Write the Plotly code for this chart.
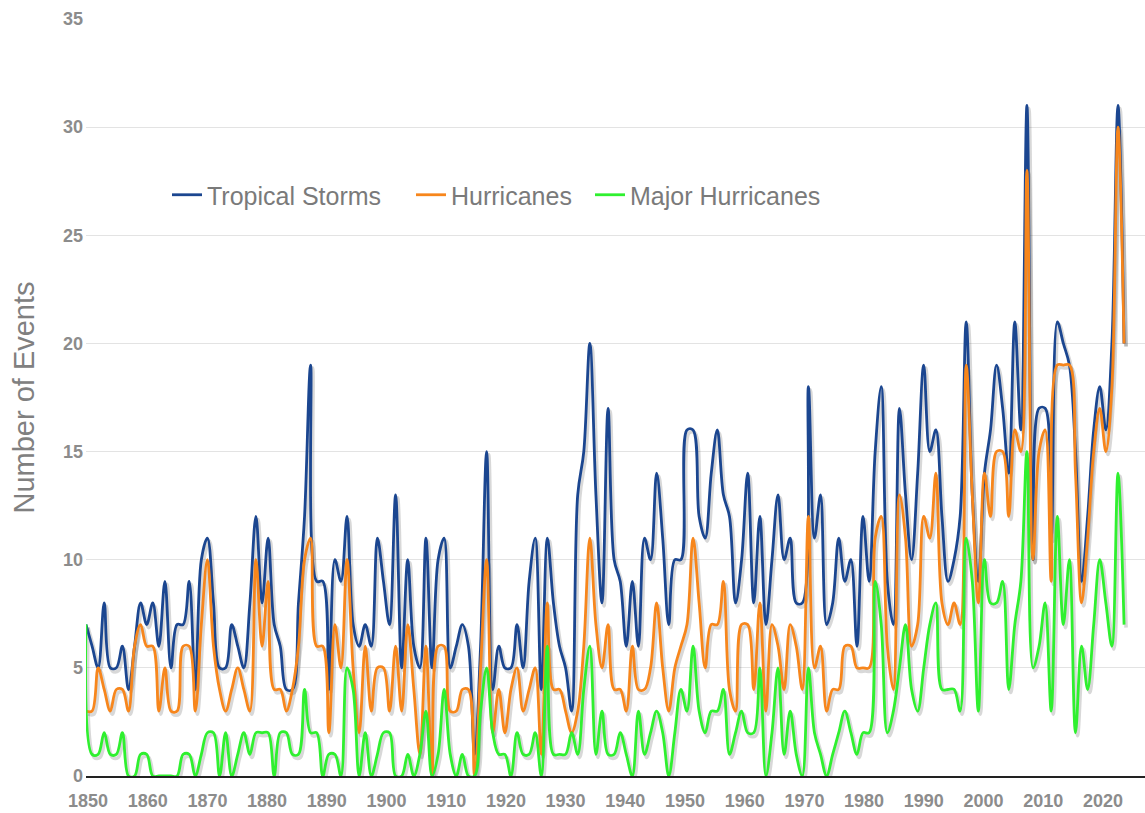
import plotly.graph_objects as go

# Atlantic seasons, one value per year
years = list(range(1850, 2022))

tropical_storms = [
    7, 6, 5, 8, 5, 5, 6, 4, 6, 8,
    7, 8, 6, 9, 5, 7, 7, 9, 4, 10,
    11, 8, 5, 5, 7, 6, 5, 8, 12, 8,
    11, 7, 6, 4, 4, 8, 12, 19, 9, 9,
    4, 10, 9, 12, 7, 6, 7, 6, 11, 9,
    7, 13, 5, 10, 6, 5, 11, 5, 10, 11,
    5, 6, 7, 6, 1, 6, 15, 4, 6, 5,
    5, 7, 5, 9, 11, 4, 11, 8, 6, 5,
    3, 13, 15, 20, 13, 8, 17, 10, 9, 6,
    9, 6, 11, 10, 14, 11, 7, 10, 10, 16,
    16, 12, 11, 14, 16, 13, 12, 8, 10, 14,
    8, 12, 7, 10, 13, 10, 11, 8, 8, 18,
    11, 13, 7, 8, 11, 9, 10, 6, 12, 9,
    15, 18, 9, 7, 17, 13, 10, 14, 19, 15,
    16, 12, 9, 10, 12, 21, 13, 9, 14, 16,
    19, 17, 14, 21, 16, 31, 10, 17, 17, 11,
    21, 20, 19, 15, 9, 12, 16, 18, 16, 20,
    31, 20,
]

hurricanes = [
    3, 3, 5, 4, 3, 4, 4, 3, 6, 7,
    6, 6, 3, 5, 3, 3, 6, 6, 3, 7,
    10, 6, 4, 3, 4, 5, 4, 3, 10, 6,
    9, 4, 4, 3, 4, 6, 10, 11, 6, 6,
    2, 7, 5, 10, 5, 2, 6, 3, 5, 5,
    3, 6, 3, 7, 4, 1, 6, 0, 6, 6,
    3, 3, 4, 4, 0, 5, 10, 2, 4, 2,
    4, 5, 3, 4, 5, 1, 8, 4, 4, 3,
    2, 3, 6, 11, 7, 5, 7, 4, 4, 3,
    6, 4, 4, 5, 8, 5, 3, 5, 6, 7,
    11, 8, 5, 7, 7, 9, 4, 3, 7, 7,
    4, 8, 3, 7, 6, 4, 7, 6, 4, 12,
    5, 6, 3, 4, 4, 6, 6, 5, 5, 5,
    11, 12, 6, 4, 13, 11, 6, 7, 12, 11,
    14, 8, 7, 8, 7, 19, 13, 8, 14, 12,
    15, 15, 12, 16, 15, 28, 10, 15, 16, 9,
    19, 19, 19, 14, 8, 11, 15, 17, 15, 18,
    30, 20,
]

major_hurricanes = [
    7, 1, 1, 2, 1, 1, 2, 0, 0, 1,
    1, 0, 0, 0, 0, 0, 1, 1, 0, 1,
    2, 2, 0, 2, 0, 1, 2, 1, 2, 2,
    2, 0, 2, 2, 1, 1, 4, 2, 2, 0,
    1, 1, 0, 5, 4, 0, 2, 0, 1, 2,
    2, 0, 0, 1, 0, 1, 3, 0, 1, 4,
    1, 0, 1, 0, 0, 3, 5, 2, 1, 1,
    0, 2, 1, 1, 2, 0, 6, 1, 1, 1,
    2, 1, 4, 6, 1, 3, 1, 1, 2, 1,
    0, 3, 1, 2, 3, 2, 0, 2, 4, 3,
    6, 3, 2, 3, 3, 4, 1, 2, 3, 2,
    2, 5, 0, 2, 5, 1, 3, 1, 0, 5,
    2, 1, 0, 1, 2, 3, 2, 1, 2, 2,
    9, 7, 2, 3, 5, 7, 4, 3, 5, 7,
    8, 4, 4, 4, 3, 11, 9, 3, 10, 8,
    8, 9, 4, 7, 9, 15, 5, 6, 8, 3,
    12, 7, 10, 2, 6, 4, 7, 10, 8, 6,
    14, 7,
]

x_ticks = list(range(1850, 2021, 10))
y_ticks = list(range(0, 36, 5))

series = [
    ("Tropical Storms", tropical_storms, "#1b4690", "legend"),
    ("Hurricanes", hurricanes, "#f7861c", "legend2"),
    ("Major Hurricanes", major_hurricanes, "#2ff02f", "legend3"),
]

x_range = [1850, 2024.45]
y_range = [0, 35]
px_per_year = 1059 / (x_range[1] - x_range[0])
px_per_unit = 757 / (y_range[1] - y_range[0])
# soft drop shadow like the original: same data on hidden base axes nudged ~2px right, ~3px down
dx = 2 / px_per_year
dy = 3 / px_per_unit
# the original's year labels sit on a slightly tighter pitch than the data points
label_pitch = 5.97
tick_pos = [x_range[0] + (2 + (t - 1850) * label_pitch) / px_per_year for t in x_ticks]

fig = go.Figure()
for name, vals, color, leg in series:
    fig.add_trace(go.Scatter(
        x=years, y=vals, mode="lines", showlegend=False, hoverinfo="skip",
        line=dict(color="rgba(60,60,60,0.2)", width=3.6, shape="spline", smoothing=1),
        xaxis="x", yaxis="y",
    ))
for name, vals, color, leg in series:
    fig.add_trace(go.Scatter(
        x=years, y=vals, name=name, mode="lines", legend=leg,
        line=dict(color=color, width=2.8, shape="spline", smoothing=1),
        xaxis="x2", yaxis="y2",
    ))

tick_font = dict(family="Liberation Sans, Arial", size=18, color="#8c8c8c", weight="bold")
leg_font = dict(family="Liberation Sans, Arial", size=25, color="#7a7a7a")


def legend_at(x):
    return dict(orientation="h", x=x, y=0.7675, xanchor="left", yanchor="middle",
                font=leg_font, bgcolor="rgba(0,0,0,0)")


fig.update_layout(
    width=1145, height=813,
    margin=dict(l=86, r=0, t=19, b=37),
    plot_bgcolor="white", paper_bgcolor="white",
    showlegend=True,
    legend=legend_at(0.0765),
    legend2=legend_at(0.3069),
    legend3=legend_at(0.4759),
    xaxis=dict(range=[x_range[0] - dx, x_range[1] - dx], visible=False),
    yaxis=dict(range=[y_range[0] + dy, y_range[1] + dy], visible=False),
    xaxis2=dict(
        overlaying="x", anchor="y2", range=x_range, tickvals=tick_pos, ticktext=[str(t) for t in x_ticks],
        showgrid=False, zeroline=False, showline=True, linecolor="#222222", linewidth=2,
        tickfont=tick_font, ticks="", ticklabelstandoff=7, side="bottom",
    ),
    yaxis2=dict(
        overlaying="y", anchor="x2", range=y_range, tickvals=y_ticks, showgrid=True,
        gridcolor="#e3e3e3", gridwidth=1, side="left",
        zeroline=False, tickfont=tick_font, ticks="", ticklabelstandoff=2,
        title=dict(text="Number of Events", font=dict(family="Liberation Sans, Arial", size=29, color="#808080"), standoff=19),
    ),
)

fig.write_html("out.html", post_script="document.body.style.margin='0';",
               config={"displayModeBar": False})
